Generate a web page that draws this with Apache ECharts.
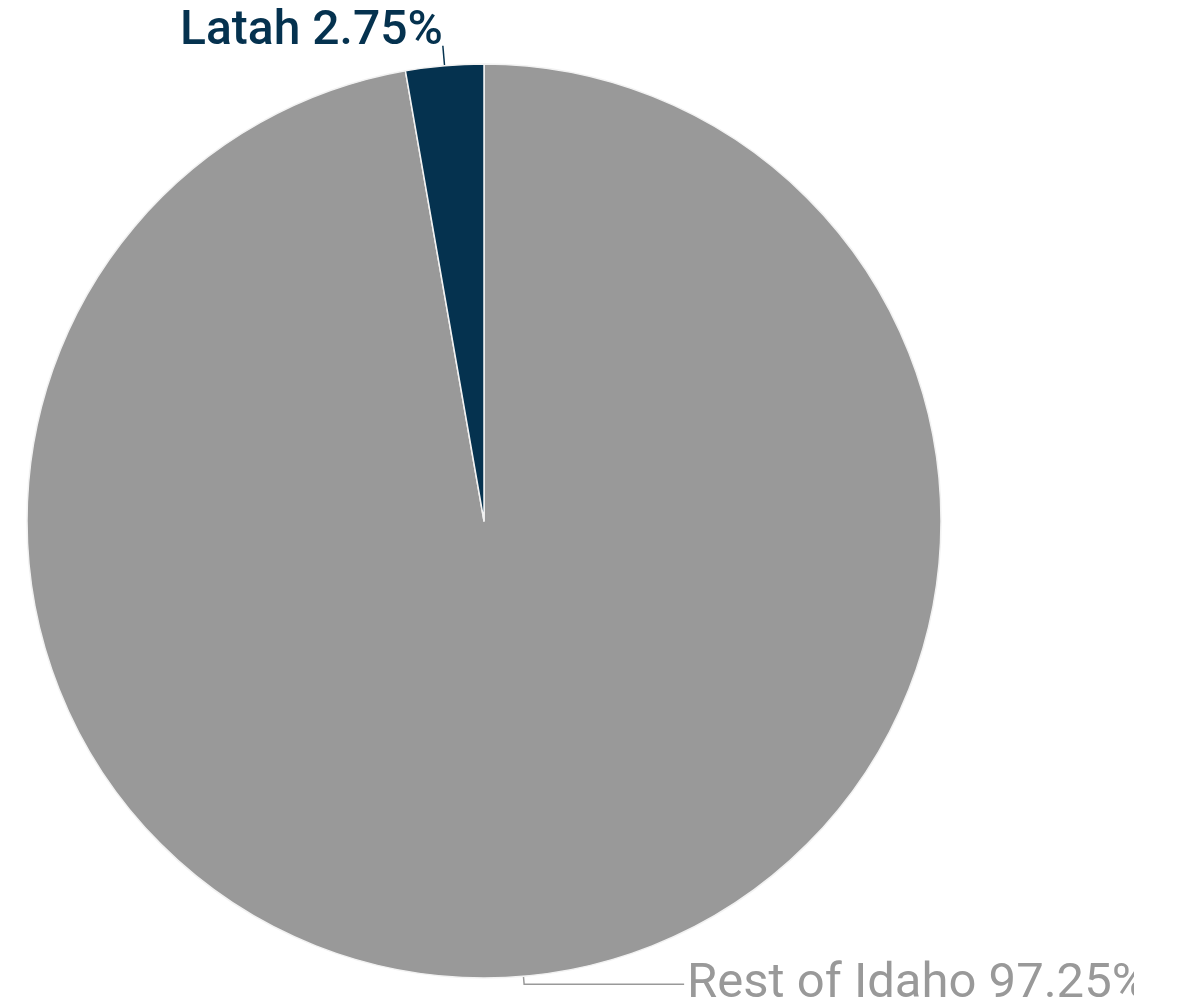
<!DOCTYPE html>
<html>
<head>
<meta charset="utf-8">
<script src="https://cdn.jsdelivr.net/npm/echarts@6/dist/echarts.min.js"></script>
<style>
  html, body { margin: 0; padding: 0; background: #ffffff; }
  #chart { width: 1134px; height: 1006px; }
</style>
</head>
<body>
<div id="chart"></div>
<script>
const categories = ['Rest of Idaho', 'Latah'];
const values = [97.25, 2.75];

const chart = echarts.init(document.getElementById('chart'), null, { renderer: 'canvas' });

const sliceStyles = [
  { color: '#999999', labelColor: '#999999', weight: 'normal', size: 49, length: 8, length2: 160, dist: 3, shiftY: 0 },
  { color: '#05324f', labelColor: '#05324f', weight: 500, size: 48, length: 20, length2: 0, dist: 0, shiftY: -14 }
];

const data = categories.map((name, i) => ({
  name: name,
  value: values[i],
  itemStyle: { color: sliceStyles[i].color },
  label: {
    color: sliceStyles[i].labelColor,
    fontWeight: sliceStyles[i].weight,
    fontSize: sliceStyles[i].size,
    distanceToLabelLine: sliceStyles[i].dist
  },
  labelLine: {
    length: sliceStyles[i].length,
    length2: sliceStyles[i].length2,
    lineStyle: { color: sliceStyles[i].color, width: 1.5 }
  }
}));

chart.setOption({
  backgroundColor: '#ffffff',
  animation: false,
  series: [{
    type: 'pie',
    center: [484, 521],
    radius: 457,
    startAngle: 90,
    clockwise: true,
    avoidLabelOverlap: false,
    itemStyle: { borderColor: '#f2f2f2', borderWidth: 1.5 },
    label: {
      show: true,
      position: 'outside',
      formatter: (p) => p.name + ' ' + p.value.toFixed(2) + '%',
      fontFamily: 'Roboto',
      fontSize: 48,
      lineHeight: 40,
      overflow: 'none'
    },
    labelLine: { show: true, smooth: false },
    labelLayout: (params) => {
      const s = sliceStyles[params.dataIndex].shiftY;
      return s ? { dy: s } : {};
    },
    data: data
  }]
});
</script>
</body>
</html>
